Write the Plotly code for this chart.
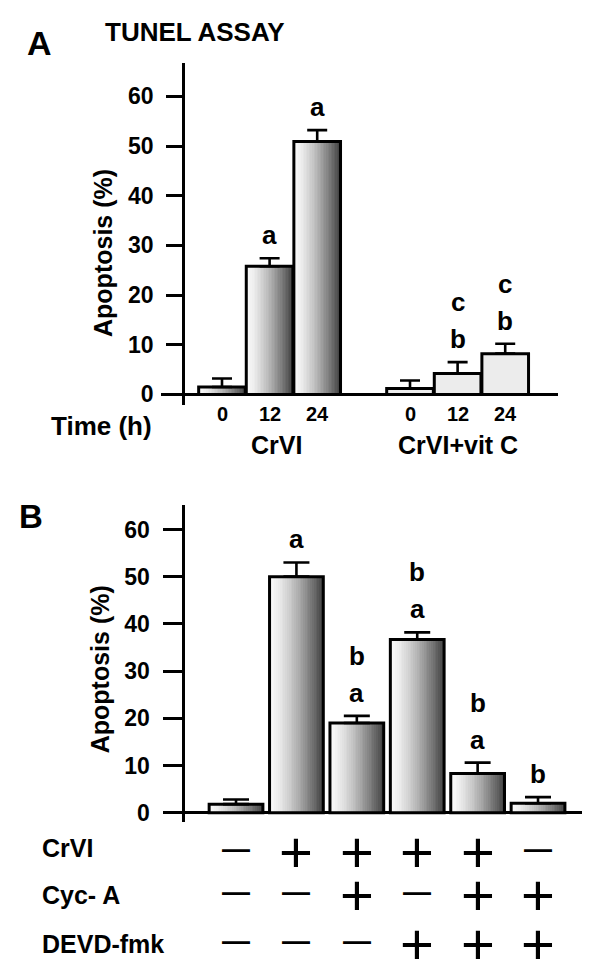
import plotly.graph_objects as go

# a página tem margem de 8 px no <body>: a figura fica 8 px menor e as
# posições lidas na imagem de referência são corrigidas por OFF
OFF = 8
W, H = 601 - OFF, 976 - OFF
FONT = "Liberation Sans, Arial, Helvetica, sans-serif"

# ── Panel A: TUNEL assay ─────────────────────────────────────────────────────
a_times = ["0", "12", "24"]
a_groups = ["CrVI", "CrVI+vit C"]
a_crvi = [1.5, 25.8, 50.9]
a_crvi_err = [1.7, 1.6, 2.3]
a_vitc = [1.2, 4.2, 8.2]
a_vitc_err = [1.6, 2.3, 2.0]
a_crvi_sig = [[], ["a"], ["a"]]
a_vitc_sig = [[], ["b", "c"], ["b", "c"]]

# ── Panel B: inhibitors ──────────────────────────────────────────────────────
b_vals = [1.8, 50.0, 19.0, 36.7, 8.3, 2.0]
b_err = [1.0, 3.0, 1.5, 1.5, 2.3, 1.3]
b_sig = [[], ["a"], ["a", "b"], ["a", "b"], ["a", "b"], ["b"]]
b_rows = ["CrVI", "Cyc- A", "DEVD-fmk"]
b_crvi = [0, 1, 1, 1, 1, 0]
b_cyca = [0, 0, 1, 0, 1, 1]
b_devd = [0, 0, 0, 1, 1, 1]

y_ticks = [0, 10, 20, 30, 40, 50, 60]
y_title = "Apoptosis (%)"

N_STRIP = 30       # faixas verticais que imitam o degradê das barras
FLAT = "#ececec"


def px(x):
    return (x - OFF) / W


def py(y):
    return 1 - (y - OFF) / H


def grad(i, n):
    t = i / (n - 1)
    v = int(round(250 - (t ** 1.4) * (250 - 70)))
    return f"rgb({v},{v},{v})"


def add_bars(fig, x, y, err, xa, ya, width, shaded, cap):
    for i in range(N_STRIP):
        c = grad(i, N_STRIP)
        fig.add_trace(go.Bar(
            x=x, y=y, width=width / N_STRIP * 1.1,
            offset=-width / 2 + i * width / N_STRIP,
            marker=dict(color=[c if s else FLAT for s in shaded],
                        line=dict(width=0)),
            xaxis=xa, yaxis=ya, hoverinfo="skip", showlegend=False,
        ))
    fig.add_trace(go.Bar(
        x=x, y=y, width=width,
        marker=dict(color="rgba(0,0,0,0)", line=dict(color="black", width=3)),
        error_y=dict(type="data", symmetric=False, array=err,
                     arrayminus=[0] * len(err), color="black",
                     thickness=2.6, width=cap),
        xaxis=xa, yaxis=ya, hoverinfo="skip", showlegend=False,
    ))


def add_letters(fig, x, y, err, sig, xa, ya):
    for xi, v, e, letters in zip(x, y, err, sig):
        for k, t in enumerate(letters):
            fig.add_annotation(
                text=t, x=xi, y=v + e, xref=xa, yref=ya,
                yshift=23 + 37 * k, xanchor="center", yanchor="middle",
                showarrow=False,
                font=dict(family=FONT, size=26, color="black", weight="bold"),
            )


def note(fig, text, x, y, size, xref="paper", xanchor="center", **kw):
    fig.add_annotation(text=text, x=x, y=y, xref=xref, yref="paper",
                       xanchor=xanchor, yanchor="middle", showarrow=False,
                       font=dict(family=FONT, size=size, color="black",
                                 weight=kw.pop("weight", "bold")), **kw)


fig = go.Figure()

# A
a_x = [g + i for g in (1, 4.95) for i in range(len(a_times))]
a_y = a_crvi + a_vitc
a_e = a_crvi_err + a_vitc_err
a_shaded = [True] * len(a_crvi) + [False] * len(a_vitc)
add_bars(fig, a_x, a_y, a_e, "x", "y", 0.98, a_shaded, 10)
add_letters(fig, a_x, a_y, a_e, a_crvi_sig + a_vitc_sig, "x", "y")

# B
b_x = list(range(1, len(b_vals) + 1))
add_bars(fig, b_x, b_vals, b_err, "x2", "y2", 0.89, [True] * len(b_vals), 13)
add_letters(fig, b_x, b_vals, b_err, b_sig, "x2", "y2")

# eixo x do painel A: tempos e grupos
for xi, t in zip(a_x, a_times * 2):
    note(fig, t, xi, py(416), 20, xref="x")
for gi, g in enumerate(a_groups):
    xs = a_x[gi * 3:(gi + 1) * 3]
    note(fig, g, sum(xs) / 3, py(447), 25, xref="x",
         xshift=7 if gi == 0 else 0)
note(fig, "Time (h)", px(101), py(428), 26)

# tabela do painel B
row_y = [855, 898, 947]
lab_y = [851, 899, 948]
for r, (name, flags) in enumerate(zip(b_rows, (b_crvi, b_cyca, b_devd))):
    note(fig, name, px(40), py(lab_y[r]), 25, xanchor="left")
    for xi, f in zip(b_x, flags):
        if f:
            note(fig, "+", xi, py(row_y[r]), 58, xref="x2", weight="normal")
        else:
            note(fig, "—", xi, py(row_y[r] - 3), 28, xref="x2")

# títulos, letras dos painéis
note(fig, "A", px(39), py(43), 34)
note(fig, "B", px(31), py(519), 33)
note(fig, "TUNEL ASSAY", px(195), py(32), 26)
for xc, yc in ((103, 254), (100, 672)):
    note(fig, y_title, px(xc), py(yc), 25, textangle=-90)

hidden_x = dict(showgrid=False, zeroline=False, showline=False,
                showticklabels=False, ticks="")
yax = dict(showgrid=False, showline=True, linecolor="black", linewidth=2.6,
           ticks="outside", tickcolor="black", tickwidth=2.6,
           tickvals=y_ticks, zeroline=True, zerolinecolor="black",
           zerolinewidth=2.6, ticklabelstandoff=8,
           tickfont=dict(family=FONT, color="black", weight="bold", size=23),
           anchor="free")

fig.update_layout(
    width=W, height=H, autosize=False,
    margin=dict(l=0, r=0, t=0, b=0),
    paper_bgcolor="white", plot_bgcolor="white",
    barmode="overlay", showlegend=False,
    xaxis=dict(hidden_x, domain=[px(161), px(558)], range=[-0.2815, 8.059],
               anchor="y"),
    yaxis=dict(yax, domain=[py(406.7), py(63.3)], range=[-2.145, 66.7],
               position=px(183), ticklen=16),
    xaxis2=dict(hidden_x, domain=[px(163), px(582)], range=[-0.209, 6.728],
                anchor="y2"),
    yaxis2=dict(yax, domain=[py(825), py(507)], range=[-1.9, 65.19],
                position=px(183.3), ticklen=20),
)

fig.write_html("out.html")
